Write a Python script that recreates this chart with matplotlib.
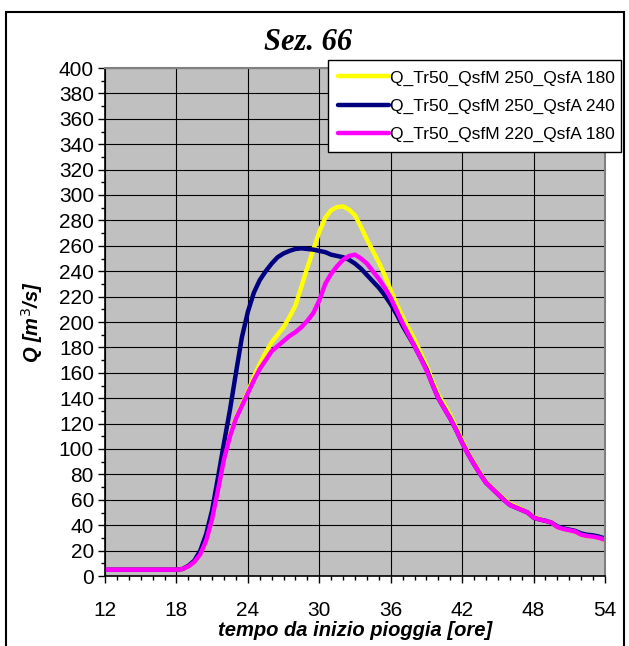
import matplotlib
matplotlib.use('Agg')
import matplotlib.pyplot as plt
import numpy as np
from matplotlib.ticker import MultipleLocator
from matplotlib.patches import Rectangle

plt.rcParams['font.family'] = 'Liberation Sans'

# tempo [ore], passo mezz'ora
ore = np.arange(12, 54.5, 0.5)

q_m250_a180 = [5, 5, 5, 5, 5, 5, 5, 5, 5, 5, 5, 5, 5,
               5.5, 7.5, 11, 17, 28, 46, 69, 93, 111, 125, 135, 145,
               157, 167, 176, 184, 190, 196, 204, 213, 228, 243, 257, 271,
               282, 288, 290.5, 291, 288.5, 284, 275, 265, 256, 247, 237, 225,
               214, 204, 195, 186, 176, 166, 154, 143, 135, 127, 117, 107,
               97, 89, 81.5, 74, 69.5, 65, 61, 57, 55, 52.5, 50, 46.5,
               45, 43.5, 42, 38.5, 37, 36, 35, 32.5, 31.5, 31, 30, 28.5]

q_m250_a240 = [5, 5, 5, 5, 5, 5, 5, 5, 5, 5, 5, 5, 5,
               5.5, 8, 12, 20, 33, 52, 78, 105, 131, 160, 188, 208,
               223, 233, 240, 246, 251, 254, 256, 257.5, 258, 257.5, 257, 256,
               255, 253, 252, 251, 249, 246, 242, 237, 232, 227, 221, 214,
               206, 197, 189, 181, 172, 163, 151, 140, 132, 124, 115, 105,
               96, 88, 80.5, 73.5, 69, 64.5, 60, 56, 54, 52, 50, 46,
               44.5, 43.5, 42, 39, 37.5, 36.5, 35.5, 33.5, 32.5, 32, 31, 29.5]

q_m220_a180 = [5, 5, 5, 5, 5, 5, 5, 5, 5, 5, 5, 5, 5,
               5.5, 7.5, 11, 17, 28, 45, 68, 92, 110, 124, 134, 144,
               154, 163, 170, 177, 181, 185, 189, 192, 196, 201, 207, 217,
               230, 238, 244, 249, 252, 253, 250, 246, 240, 234, 227, 219,
               209, 199, 190, 181, 172, 162, 151, 140, 132, 124, 115, 105,
               96, 88, 80.5, 73.5, 69, 64.5, 60, 56, 54, 52, 50, 46,
               44.5, 43.5, 42, 38.5, 37, 36, 35, 32.5, 31.5, 31, 30, 28.5]

etichette = ['Q_Tr50_QsfM 250_QsfA 180',
             'Q_Tr50_QsfM 250_QsfA 240',
             'Q_Tr50_QsfM 220_QsfA 180']
colori = ['#FFFF00', '#000080', '#FF00FF']

W, H = 629, 646
fig = plt.figure(figsize=(W/100, H/100), dpi=100)
ax = fig.add_axes([105/W, 1-576/H, 500/W, 508/H])
ax.set_facecolor('#C0C0C0')

for q, lab, c in zip([q_m250_a180, q_m250_a240, q_m220_a180], etichette, colori):
    ax.plot(ore, q, color=c, lw=3.2, label=lab, solid_capstyle='round')

ax.set_xlim(12, 54)
ax.set_ylim(0, 400)
ax.xaxis.set_major_locator(MultipleLocator(6))
ax.xaxis.set_minor_locator(MultipleLocator(1))
ax.yaxis.set_major_locator(MultipleLocator(20))
ax.yaxis.set_minor_locator(MultipleLocator(10))
ax.grid(True, which='major', color='black', lw=0.8)
ax.set_axisbelow(True)
ax.tick_params(which='major', direction='out', length=5, width=1, labelsize=15, color='black')
ax.tick_params(which='minor', direction='out', length=3, width=1, color='black')
ax.tick_params(axis='x', pad=13)
ax.tick_params(axis='y', pad=3)

for s in ['left', 'bottom']:
    ax.spines[s].set_color('black')
    ax.spines[s].set_linewidth(1.2)
for s in ['top', 'right']:
    ax.spines[s].set_color('#808080')
    ax.spines[s].set_linewidth(1.5)

ax.set_xlabel('tempo da inizio pioggia [ore]', fontsize=14.5, fontweight='bold',
              fontstyle='italic', labelpad=1)
ax.set_ylabel('Q [m$^3$/s]', fontsize=14.5, fontweight='bold', fontstyle='italic', labelpad=10)
fig.text(308/W, 1-42/H, 'Sez. 66', family='Liberation Serif', fontsize=22,
         fontweight='bold', fontstyle='italic', ha='center', va='center')

leg = ax.legend(loc='upper left', bbox_to_anchor=(328/W, 1-152/H, 293/W, 92/H),
                bbox_transform=fig.transFigure, mode='expand', borderaxespad=0,
                fontsize=12.5, handlelength=2.9, handletextpad=0.05, labelspacing=0.74,
                borderpad=0.6, fancybox=False, framealpha=1, edgecolor='black')
leg.get_frame().set_linewidth(1.0)
for l in leg.get_lines():
    l.set_linewidth(3.2)

# cornice del grafico
fig.patches.append(Rectangle((6/W, -0.02), 618/W, 1-12/H+0.02, transform=fig.transFigure,
                             fill=False, edgecolor='black', lw=1.5))

fig.savefig('out.png', dpi=100)
